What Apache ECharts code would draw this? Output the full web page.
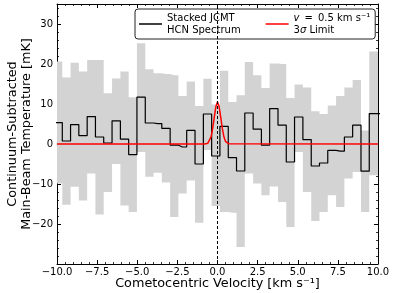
<!DOCTYPE html>
<html><head><meta charset="utf-8">
<script src="https://cdn.jsdelivr.net/npm/echarts@6.0.0/dist/echarts.min.js"></script>
<style>html,body{margin:0;padding:0;background:#fff}#c{width:395px;height:293px}</style>
</head><body><div id="c"></div>
<script>
// Channel centre velocities (km/s), first/last are edge channels clipped by the axes
const velocity = [-10.45, -9.93, -9.41, -8.90, -8.38, -7.86, -7.35, -6.83, -6.31, -5.79, -5.28,
  -4.76, -4.24, -3.73, -3.21, -2.69, -2.18, -1.66, -1.14, -0.62, -0.11,
  0.41, 0.93, 1.44, 1.96, 2.48, 2.99, 3.51, 4.03, 4.54, 5.06,
  5.58, 6.10, 6.61, 7.13, 7.65, 8.16, 8.68, 9.20, 9.71, 10.23];
// Stacked JCMT HCN spectrum (mK)
const spectrum = [5.35, 5.35, 0.75, 4.85, 2.1, 6.85, 1.75, 0.25, 5.8, 1.2, -2.65,
  11.7, 5.25, 5.1, 3.9, -0.3, -0.75, 3.4, -5.0, 7.5, -3.0,
  4.4, -3.4, -6.75, 7.75, 3.7, -0.3, 8.85, 4.7, -4.5, 6.75,
  1.1, -5.5, -4.75, -1.6, -1.8, 1.75, 4.7, -6.8, 7.6, 7.6];
// Uncertainty band, upper and lower edges (mK)
const bandUpper = [20.6, 20.6, 16.6, 20.3, 18.1, 21.0, 21.0, 12.7, 16.4, 18.1, 11.7,
  25.2, 18.7, 17.7, 17.5, 17.2, 12.0, 15.6, 9.5, 16.3, 9.9,
  18.3, 10.5, 12.2, 20.5, 17.2, 14.0, 20.1, 20.0, 11.5, 14.9,
  14.1, 8.2, 7.5, 9.6, 12.0, 14.1, 16.0, 3.4, 23.1, 23.1];
const bandLower = [-9.9, -9.9, -15.2, -10.7, -14.1, -7.4, -17.6, -12.0, -5.0, -15.4, -17.0,
  -2.0, -8.2, -7.2, -9.65, -18.25, -12.4, -9.1, -19.7, -1.5, -15.5,
  -17.0, -17.2, -25.75, -7.4, -9.9, -12.8, -10.6, -14.5, -20.75, -2.0,
  -12.0, -19.25, -17.0, -12.8, -15.75, -8.65, -7.0, -17.0, -7.8, -7.8];
// 3-sigma limit model line (v = 0.5 km/s)
const modelVelocity = [-10, -0.8, -0.7, -0.6, -0.5, -0.4, -0.3, -0.2, -0.1, 0, 0.1, 0.2, 0.3, 0.4, 0.5, 0.6, 0.7, 0.8, 10];
const modelTemp = [0, 0, 0.04, 0.2, 0.65, 1.8, 3.9, 6.7, 9.4, 10.5, 9.4, 6.7, 3.9, 1.8, 0.65, 0.2, 0.04, 0, 0];
// Axis ticks
const xTickMin = -10, xTickMax = 10, xTickStep = 2.5;
const yMin = -30, yMax = 35, yTickStep = 10, yLabelMin = -20, yLabelMax = 30;

const FONT = 'DejaVu Sans';
const minus = v => (v < 0 ? '\u2212' : '') + Math.abs(v);

function xAx(pos, show) {
  return {
    type: 'value', position: pos, min: xTickMin, max: xTickMax, interval: xTickStep,
    axisLine: {show: true, onZero: false, lineStyle: {color: '#000', width: 1}},
    axisTick: {show: true, inside: true, length: 4, lineStyle: {color: '#000', width: 1}},
    minorTick: {show: true, splitNumber: 5, length: 2, lineStyle: {color: '#000', width: 0.8}},
    splitLine: {show: false}, minorSplitLine: {show: false},
    axisLabel: {show: show, margin: 3, color: '#000', fontFamily: FONT, fontSize: 10,
      formatter: v => (v < 0 ? '\u2212' : '') + Math.abs(v).toFixed(1)},
    name: show ? 'Cometocentric Velocity [km s\u207B\u00B9]' : '',
    nameLocation: 'middle', nameGap: 13, nameMoveOverlap: false,
    nameTextStyle: {color: '#000', fontFamily: FONT, fontSize: 12.8}
  };
}
function yAx(pos, show) {
  return {
    type: 'value', position: pos, min: yMin, max: yMax, interval: yTickStep,
    axisLine: {show: true, onZero: false, lineStyle: {color: '#000', width: 1}},
    axisTick: {show: true, inside: true, length: 4, lineStyle: {color: '#000', width: 1}},
    minorTick: {show: true, splitNumber: 5, length: 2, lineStyle: {color: '#000', width: 0.8}},
    splitLine: {show: false}, minorSplitLine: {show: false},
    axisLabel: {show: show, margin: 4, color: '#000', fontFamily: FONT, fontSize: 10,
      showMinLabel: true, showMaxLabel: true,
      formatter: v => (v >= yLabelMin && v <= yLabelMax) ? minus(v) : ''},
    name: show ? 'Continuum-Subtracted\nMain-Beam Temperature [mK]' : '',
    nameLocation: 'middle', nameGap: 23, nameMoveOverlap: false,
    nameTextStyle: {color: '#000', fontFamily: FONT, fontSize: 12.8, lineHeight: 14.5}
  };
}

const chart = echarts.init(document.getElementById('c'), null, {renderer: 'canvas'});
const pts = (xs, ys) => xs.map((x, i) => [x, ys[i]]);

chart.setOption({
  animation: false,
  backgroundColor: '#fff',
  grid: {left: 57, right: 17, top: 4, bottom: 29, containLabel: false, outerBoundsMode: 'none'},
  xAxis: [xAx('bottom', true), xAx('top', false)],
  yAxis: [yAx('left', true), yAx('right', false)],
  legend: {
    left: 135, top: 9, orient: 'horizontal',
    data: [
      {name: 'Stacked JCMT\nHCN Spectrum', icon: 'rect', itemStyle: {color: '#000'}},
      {name: 'v = 0.5 km s\u207B\u00B9\n3\u03C3 Limit', icon: 'rect', itemStyle: {color: '#ff0000'}}
    ],
    itemWidth: 23, itemHeight: 1.5, itemGap: 25,
    padding: [3, 5, 3, 4],
    borderColor: '#222', borderWidth: 1, borderRadius: 3, backgroundColor: '#fff',
    textStyle: {color: '#000', fontFamily: FONT, fontSize: 10, lineHeight: 12,
      rich: {i: {fontStyle: 'italic', fontFamily: FONT, fontSize: 10, color: '#000', lineHeight: 12}}},
    formatter: name => name.startsWith('v')
      ? '{i|v}\u2002=\u20020.5 km s\u207B\u00B9\n3{i|\u03C3} Limit' : name
  },
  series: [
    {
      name: 'bandUpper', type: 'line', step: 'middle', symbol: 'none', silent: true,
      lineStyle: {opacity: 0, width: 0}, areaStyle: {color: '#d3d3d3', opacity: 1, origin: 0}, z: 1,
      data: pts(velocity, bandUpper)
    },
    {
      name: 'bandLower', type: 'line', step: 'middle', symbol: 'none', silent: true,
      lineStyle: {opacity: 0, width: 0}, areaStyle: {color: '#d3d3d3', opacity: 1, origin: 0}, z: 1,
      data: pts(velocity, bandLower)
    },
    {
      name: 'Stacked JCMT\nHCN Spectrum', type: 'line', step: 'middle', symbol: 'none',
      color: '#000', lineStyle: {color: '#000', width: 1.2}, z: 3,
      data: pts(velocity, spectrum),
      markLine: {
        silent: true, symbol: ['none', 'none'], label: {show: false},
        lineStyle: {color: '#000', width: 1, type: [3, 2]},
        data: [{xAxis: 0}]
      }
    },
    {
      name: 'v = 0.5 km s\u207B\u00B9\n3\u03C3 Limit', type: 'line', symbol: 'none',
      color: '#ff0000', lineStyle: {color: '#ff0000', width: 1.5}, z: 4,
      data: pts(modelVelocity, modelTemp)
    }
  ]
});
</script>
</body></html>
